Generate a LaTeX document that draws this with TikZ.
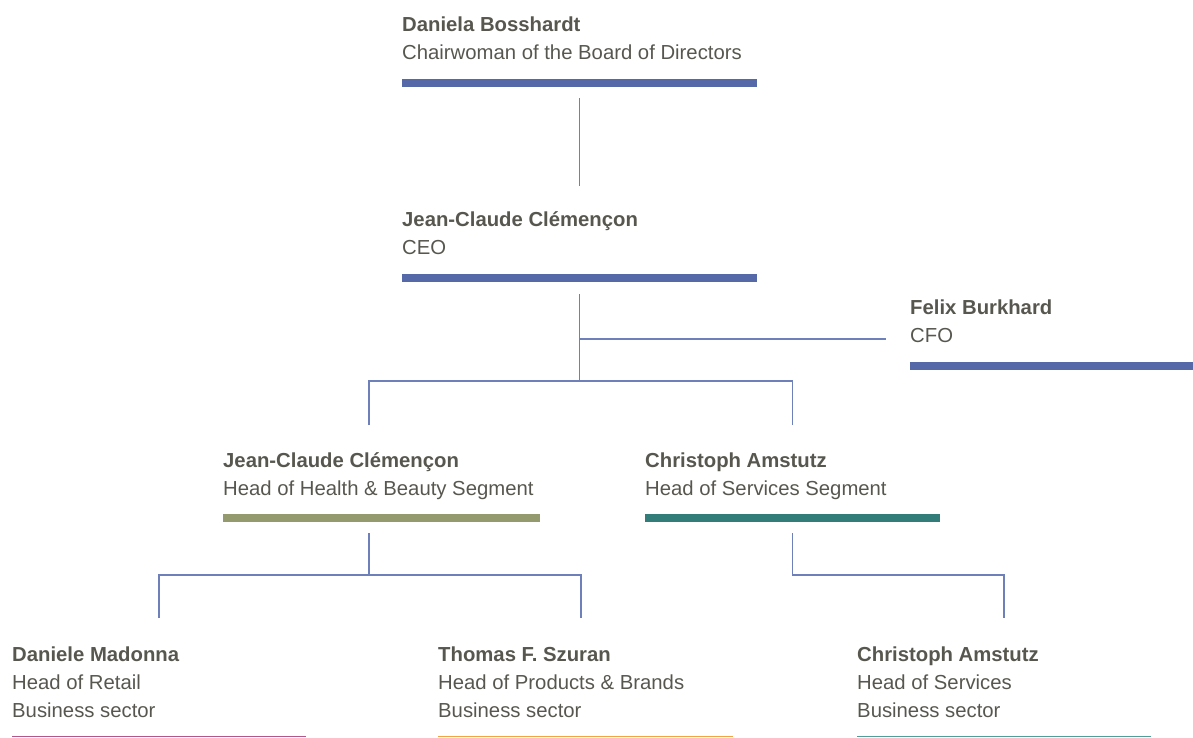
\documentclass[tikz,border=0pt]{standalone}
\usepackage{fontspec}
\setmainfont{Liberation Sans}
\usepackage{tikz}
\usetikzlibrary{positioning}
\definecolor{txtgray}{HTML}{58574F}
\definecolor{barblue}{HTML}{5569A8}
\definecolor{linkblue}{HTML}{6E80B9}
\definecolor{hbolive}{HTML}{959A6E}
\definecolor{svteal}{HTML}{327C79}
\definecolor{retailpink}{HTML}{B2578A}
\definecolor{prodorange}{HTML}{F2A443}
\definecolor{servteal}{HTML}{4F9E9B}
\tikzset{
  person/.style={anchor=base west, inner sep=0pt, align=left, text=txtgray,
    font=\fontsize{20.3}{28}\selectfont},
  bar/.style={anchor=north west, inner sep=0pt, minimum height=8pt, draw=none},
  thinbar/.style={anchor=north west, inner sep=0pt, minimum height=1.5pt, draw=none},
  link/.style={draw=linkblue, line width=1.4pt}
}

\begin{document}
\begin{tikzpicture}[x=1pt,y=-1pt]
\useasboundingbox (0,0) rectangle (1193,737);
% praesidium (base = letzte zeile)
\node[person] (chair) at (402,59.5) {\textbf{Daniela Bosshardt}\\Chairwoman of the Board of Directors};
\node[bar, fill=barblue, minimum width=355pt] (chairbar) at (402,79) {};
% ceo
\node[person] (ceo) at (402,254) {\textbf{Jean-Claude Clémençon}\\CEO};
\node[bar, fill=barblue, minimum width=355pt] (ceobar) at (402,274) {};
% cfo
\node[person] (cfo) at (910,342) {\textbf{Felix Burkhard}\\CFO};
\node[bar, fill=barblue, minimum width=283pt] (cfobar) at (910,362) {};
% segmente
\node[person] (hb) at (223,495) {\textbf{Jean-Claude Clémençon}\\Head of Health \& Beauty Segment};
\node[bar, fill=hbolive, minimum width=317pt] (hbbar) at (223,514) {};
\node[person] (sv) at (645,495) {\textbf{Christoph Amstutz}\\Head of Services Segment};
\node[bar, fill=svteal, minimum width=295pt] (svbar) at (645,514) {};
% geschaeftsbereiche
\node[person] (retail) at (12,717) {\textbf{Daniele Madonna}\\Head of Retail\\Business sector};
\node[thinbar, fill=retailpink, minimum width=294pt] (retailbar) at (12,735.5) {};
\node[person] (prod) at (438,717) {\textbf{Thomas F. Szuran}\\Head of Products \& Brands\\Business sector};
\node[thinbar, fill=prodorange, minimum width=295pt] (prodbar) at (438,735.5) {};
\node[person] (serv) at (857,717) {\textbf{Christoph Amstutz}\\Head of Services\\Business sector};
\node[thinbar, fill=servteal, minimum width=294pt] (servbar) at (857,735.5) {};
% knoten
\coordinate (cfotap) at (ceobar.south |- 0,339);
\coordinate (cfoend) at (886,339);
\coordinate (split) at (ceobar.south |- 0,381);
\coordinate (hbsplit) at (369,575);
\coordinate (svsplit) at (svbar.south |- 0,575);
% verbindungen
\draw[link] (chairbar.south |- 0,98) -- (chairbar.south |- 0,186);
\draw[link] (ceobar.south |- 0,294) -- (split);
\draw[link] (cfotap) -- (cfoend);
\draw[link] (369,425) |- (split) -| (svbar.north |- 0,425);
\draw[link] (369,533) -- (hbsplit);
\draw[link] (159,618) |- (hbsplit) -| (581,618);
\draw[link] (svbar.south |- 0,533) -- (svsplit) -| (1004,618);
\end{tikzpicture}
\end{document}
